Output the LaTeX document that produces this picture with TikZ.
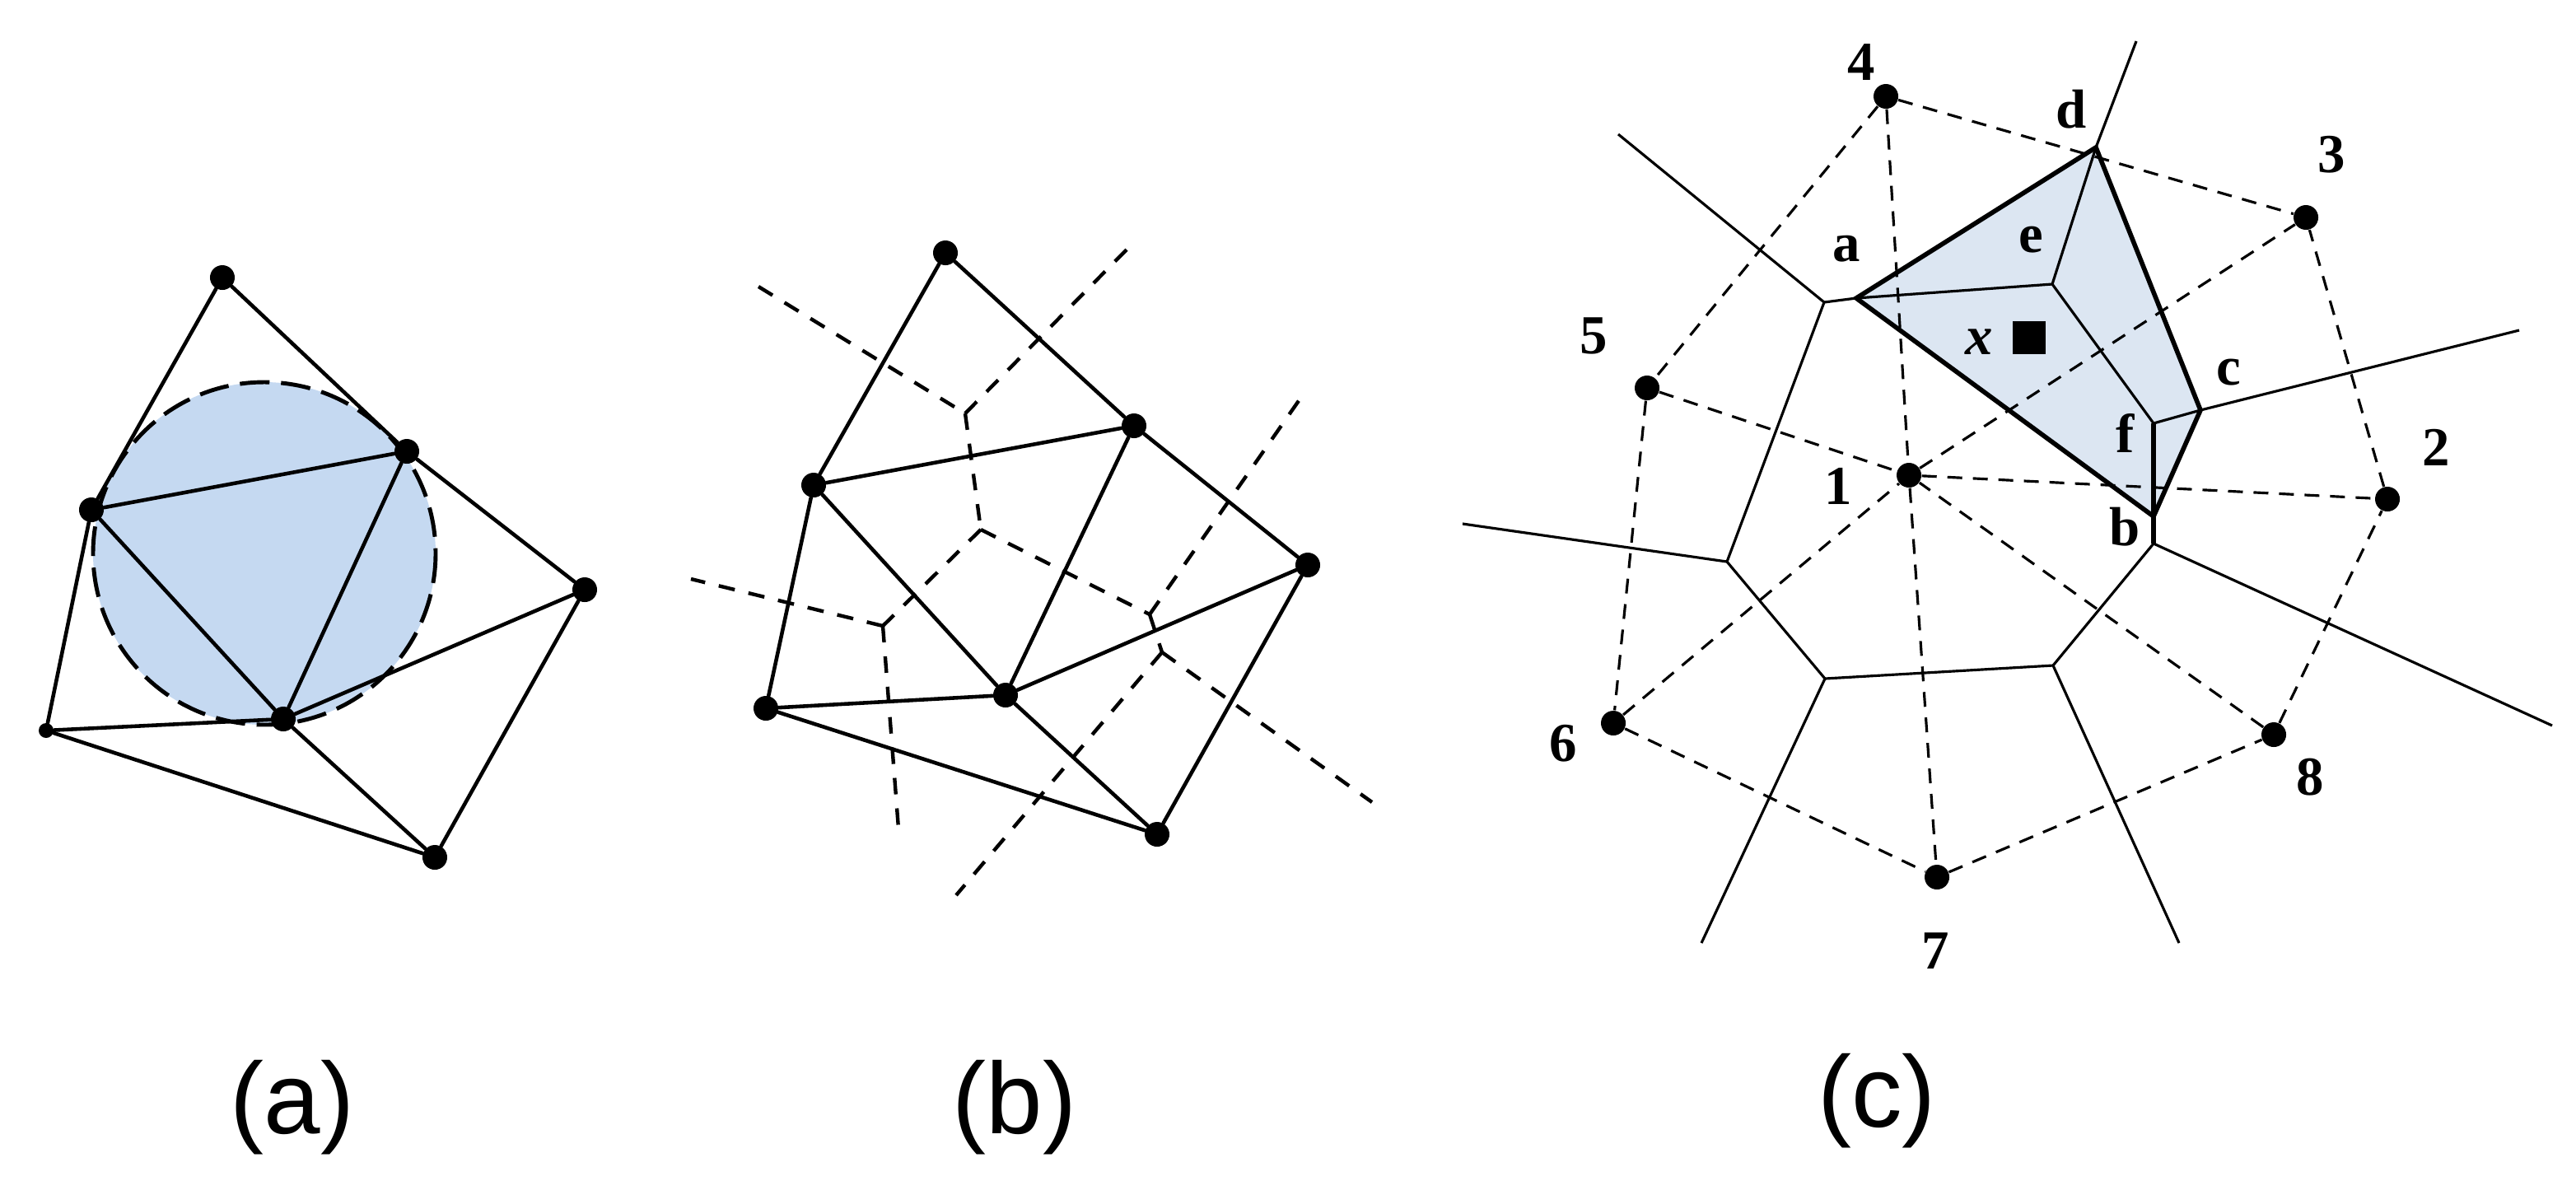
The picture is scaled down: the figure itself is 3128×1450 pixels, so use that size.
\documentclass[tikz,border=0pt]{standalone}
\usepackage{fontspec}
\setmainfont{Liberation Serif}
\newfontfamily\capfont{Liberation Sans}
\definecolor{circfill}{RGB}{197,217,241}
\definecolor{cellfill}{RGB}{220,230,242}
\begin{document}
\begin{tikzpicture}[x=0.01cm,y=-0.01cm,
  dot/.style={circle,fill=black,inner sep=0pt,minimum size=0.30cm},
  smalldot/.style={circle,fill=black,inner sep=0pt,minimum size=0.18cm},
  tri/.style={line width=1.3pt,line cap=round},
  circdash/.style={line width=1.4pt,dash pattern=on 0.36cm off 0.14cm,fill=circfill},
  vorb/.style={line width=1.25pt,dash pattern=on 0.2cm off 0.17cm},
  delc/.style={line width=0.9pt,dash pattern=on 0.18cm off 0.13cm},
  vorc/.style={line width=0.9pt},
  thickc/.style={line width=1.6pt,line join=miter},
  lab/.style={inner sep=0pt,font=\fontsize{19}{21}\selectfont\bfseries},
  captext/.style={anchor=base,inner sep=0pt,font=\capfont\fontsize{35}{40}\selectfont}]
\useasboundingbox (0,0) rectangle (3128,1450);

% ---------------- panel (a) ----------------
\draw[circdash] (321,672) circle[radius=208];
\node[dot] (a1) at (270,337) {};
\node[dot] (a2) at (111,619) {};
\node[dot] (a3) at (494,548) {};
\node[dot] (a4) at (710,716) {};
\node[smalldot] (a5) at (56,887) {};
\node[dot] (a6) at (344,873) {};
\node[dot] (a7) at (528,1041) {};
\draw[tri] (a1) -- (a2);
\draw[tri] (a1) -- (a3);
\draw[tri] (a2) -- (a3);
\draw[tri] (a2) -- (a6);
\draw[tri] (a3) -- (a6);
\draw[tri] (a3) -- (a4);
\draw[tri] (a4) -- (a6);
\draw[tri] (a4) -- (a7);
\draw[tri] (a6) -- (a7);
\draw[tri] (a2) -- (a5);
\draw[tri] (a5) -- (a6);
\draw[tri] (a5) -- (a7);
\node[captext] (capa) at (355,1376) {(a)};

% ---------------- panel (b) ----------------
\node[dot] (b1) at (1148,307) {};
\node[dot] (b2) at (1377,517) {};
\node[dot] (b3) at (988,589) {};
\node[dot] (b4) at (1588,686) {};
\node[dot] (b5) at (930,860) {};
\node[dot] (b6) at (1221,844) {};
\node[dot] (b7) at (1405,1013) {};
\coordinate (v1) at (1172,502);
\coordinate (v2) at (1191,643);
\coordinate (v3) at (1072,760);
\coordinate (v4) at (1396,746);
\coordinate (v5) at (1411,792);
\coordinate (e1) at (921,348);
\coordinate (e2) at (1375,296);
\coordinate (e3) at (839,703);
\coordinate (e4) at (1091,1006);
\coordinate (e5) at (1583,478);
\coordinate (e6) at (1666,974);
\coordinate (e7) at (1161,1087);
\draw[vorb] (e1) -- (v1);
\draw[vorb] (v1) -- (e2);
\draw[vorb] (v1) -- (v2);
\draw[vorb] (v2) -- (v3);
\draw[vorb] (v3) -- (e3);
\draw[vorb] (v3) -- (e4);
\draw[vorb] (v2) -- (v4);
\draw[vorb] (v4) -- (e5);
\draw[vorb] (v4) -- (v5);
\draw[vorb] (v5) -- (e6);
\draw[vorb] (v5) -- (e7);
\draw[tri] (b1) -- (b3);
\draw[tri] (b1) -- (b2);
\draw[tri] (b3) -- (b2);
\draw[tri] (b3) -- (b6);
\draw[tri] (b2) -- (b6);
\draw[tri] (b2) -- (b4);
\draw[tri] (b4) -- (b6);
\draw[tri] (b4) -- (b7);
\draw[tri] (b6) -- (b7);
\draw[tri] (b3) -- (b5);
\draw[tri] (b5) -- (b6);
\draw[tri] (b5) -- (b7);
\node[captext] (capb) at (1232,1376) {(b)};

% ---------------- panel (c) ----------------
\coordinate (pa) at (2254,362);
\coordinate (pd) at (2545,179);
\coordinate (pe) at (2492,345);
\coordinate (pc) at (2672,498);
\coordinate (pf) at (2615,514);
\coordinate (pb) at (2615,627);
\coordinate (av) at (2215,367);
\coordinate (bv) at (2615,660);
\coordinate (vl) at (2097,682);
\coordinate (vbl) at (2216,824);
\coordinate (vbr) at (2493,808);
\coordinate (r1) at (1965,163);
\coordinate (r2) at (2594,50);
\coordinate (r3) at (3059,401);
\coordinate (r4) at (3099,881);
\coordinate (r5) at (1776,636);
\coordinate (r6) at (2066,1145);
\coordinate (r7) at (2646,1145);
\fill[cellfill] (pa) -- (pd) -- (pc) -- (pb) -- cycle;

\node[dot] (s1) at (2318,577) {};
\node[dot] (s2) at (2899,606) {};
\node[dot] (s3) at (2800,264) {};
\node[dot] (s4) at (2290,117) {};
\node[dot] (s5) at (2000,471) {};
\node[dot] (s6) at (1959,878) {};
\node[dot] (s7) at (2352,1065) {};
\node[dot] (s8) at (2761,892) {};

\draw[delc] (s4) -- (s3);
\draw[delc] (s4) -- (s5);
\draw[delc] (s4) -- (s1);
\draw[delc] (s1) -- (s7);
\draw[delc] (s5) -- (s1);
\draw[delc] (s5) -- (s6);
\draw[delc] (s6) -- (s1);
\draw[delc] (s6) -- (s7);
\draw[delc] (s7) -- (s8);
\draw[delc] (s8) -- (s2);
\draw[delc] (s8) -- (s1);
\draw[delc] (s2) -- (s3);
\draw[delc] (s1) -- (s2);
\draw[delc] (s1) -- (s3);

\draw[vorc] (r1) -- (av);
\draw[vorc] (av) -- (pa);
\draw[vorc] (av) -- (vl);
\draw[vorc] (vl) -- (r5);
\draw[vorc] (vl) -- (vbl);
\draw[vorc] (vbl) -- (r6);
\draw[vorc] (vbl) -- (vbr);
\draw[vorc] (vbr) -- (r7);
\draw[vorc] (vbr) -- (bv);
\draw[vorc] (bv) -- (r4);
\draw[vorc] (pd) -- (r2);
\draw[vorc] (pc) -- (r3);
\draw[vorc] (pa) -- (pe);
\draw[vorc] (pe) -- (pd);
\draw[vorc] (pe) -- (pf);
\draw[vorc] (pf) -- (pc);
\draw[thickc] (pb) -- (bv);
\draw[thickc] (pf) -- (pb);
\draw[thickc] (pa) -- (pd) -- (pc) -- (pb) -- cycle;

\node[fill=black,inner sep=0pt,minimum size=0.40cm] (xsq) at (2464,410) {};
\node[lab,font=\fontsize{19}{21}\selectfont\bfseries\itshape] (lx) at (2403,415) {x};

\node[lab] (l4) at (2260,75) {4};
\node[lab] (ld) at (2515,133) {d};
\node[lab] (l3) at (2831,188) {3};
\node[lab] (la) at (2242,302) {a};
\node[lab] (le) at (2466,291) {e};
\node[lab] (l5) at (1935,408) {5};
\node[lab] (lc) at (2706,452) {c};
\node[lab] (lf) at (2581,526) {f};
\node[lab] (l2) at (2958,543) {2};
\node[lab] (l1) at (2232,590) {1};
\node[lab] (lb) at (2580,640) {b};
\node[lab] (l6) at (1898,903) {6};
\node[lab] (l8) at (2805,944) {8};
\node[lab] (l7) at (2350,1155) {7};
\node[captext] (capc) at (2279,1368) {(c)};
\end{tikzpicture}
\end{document}
